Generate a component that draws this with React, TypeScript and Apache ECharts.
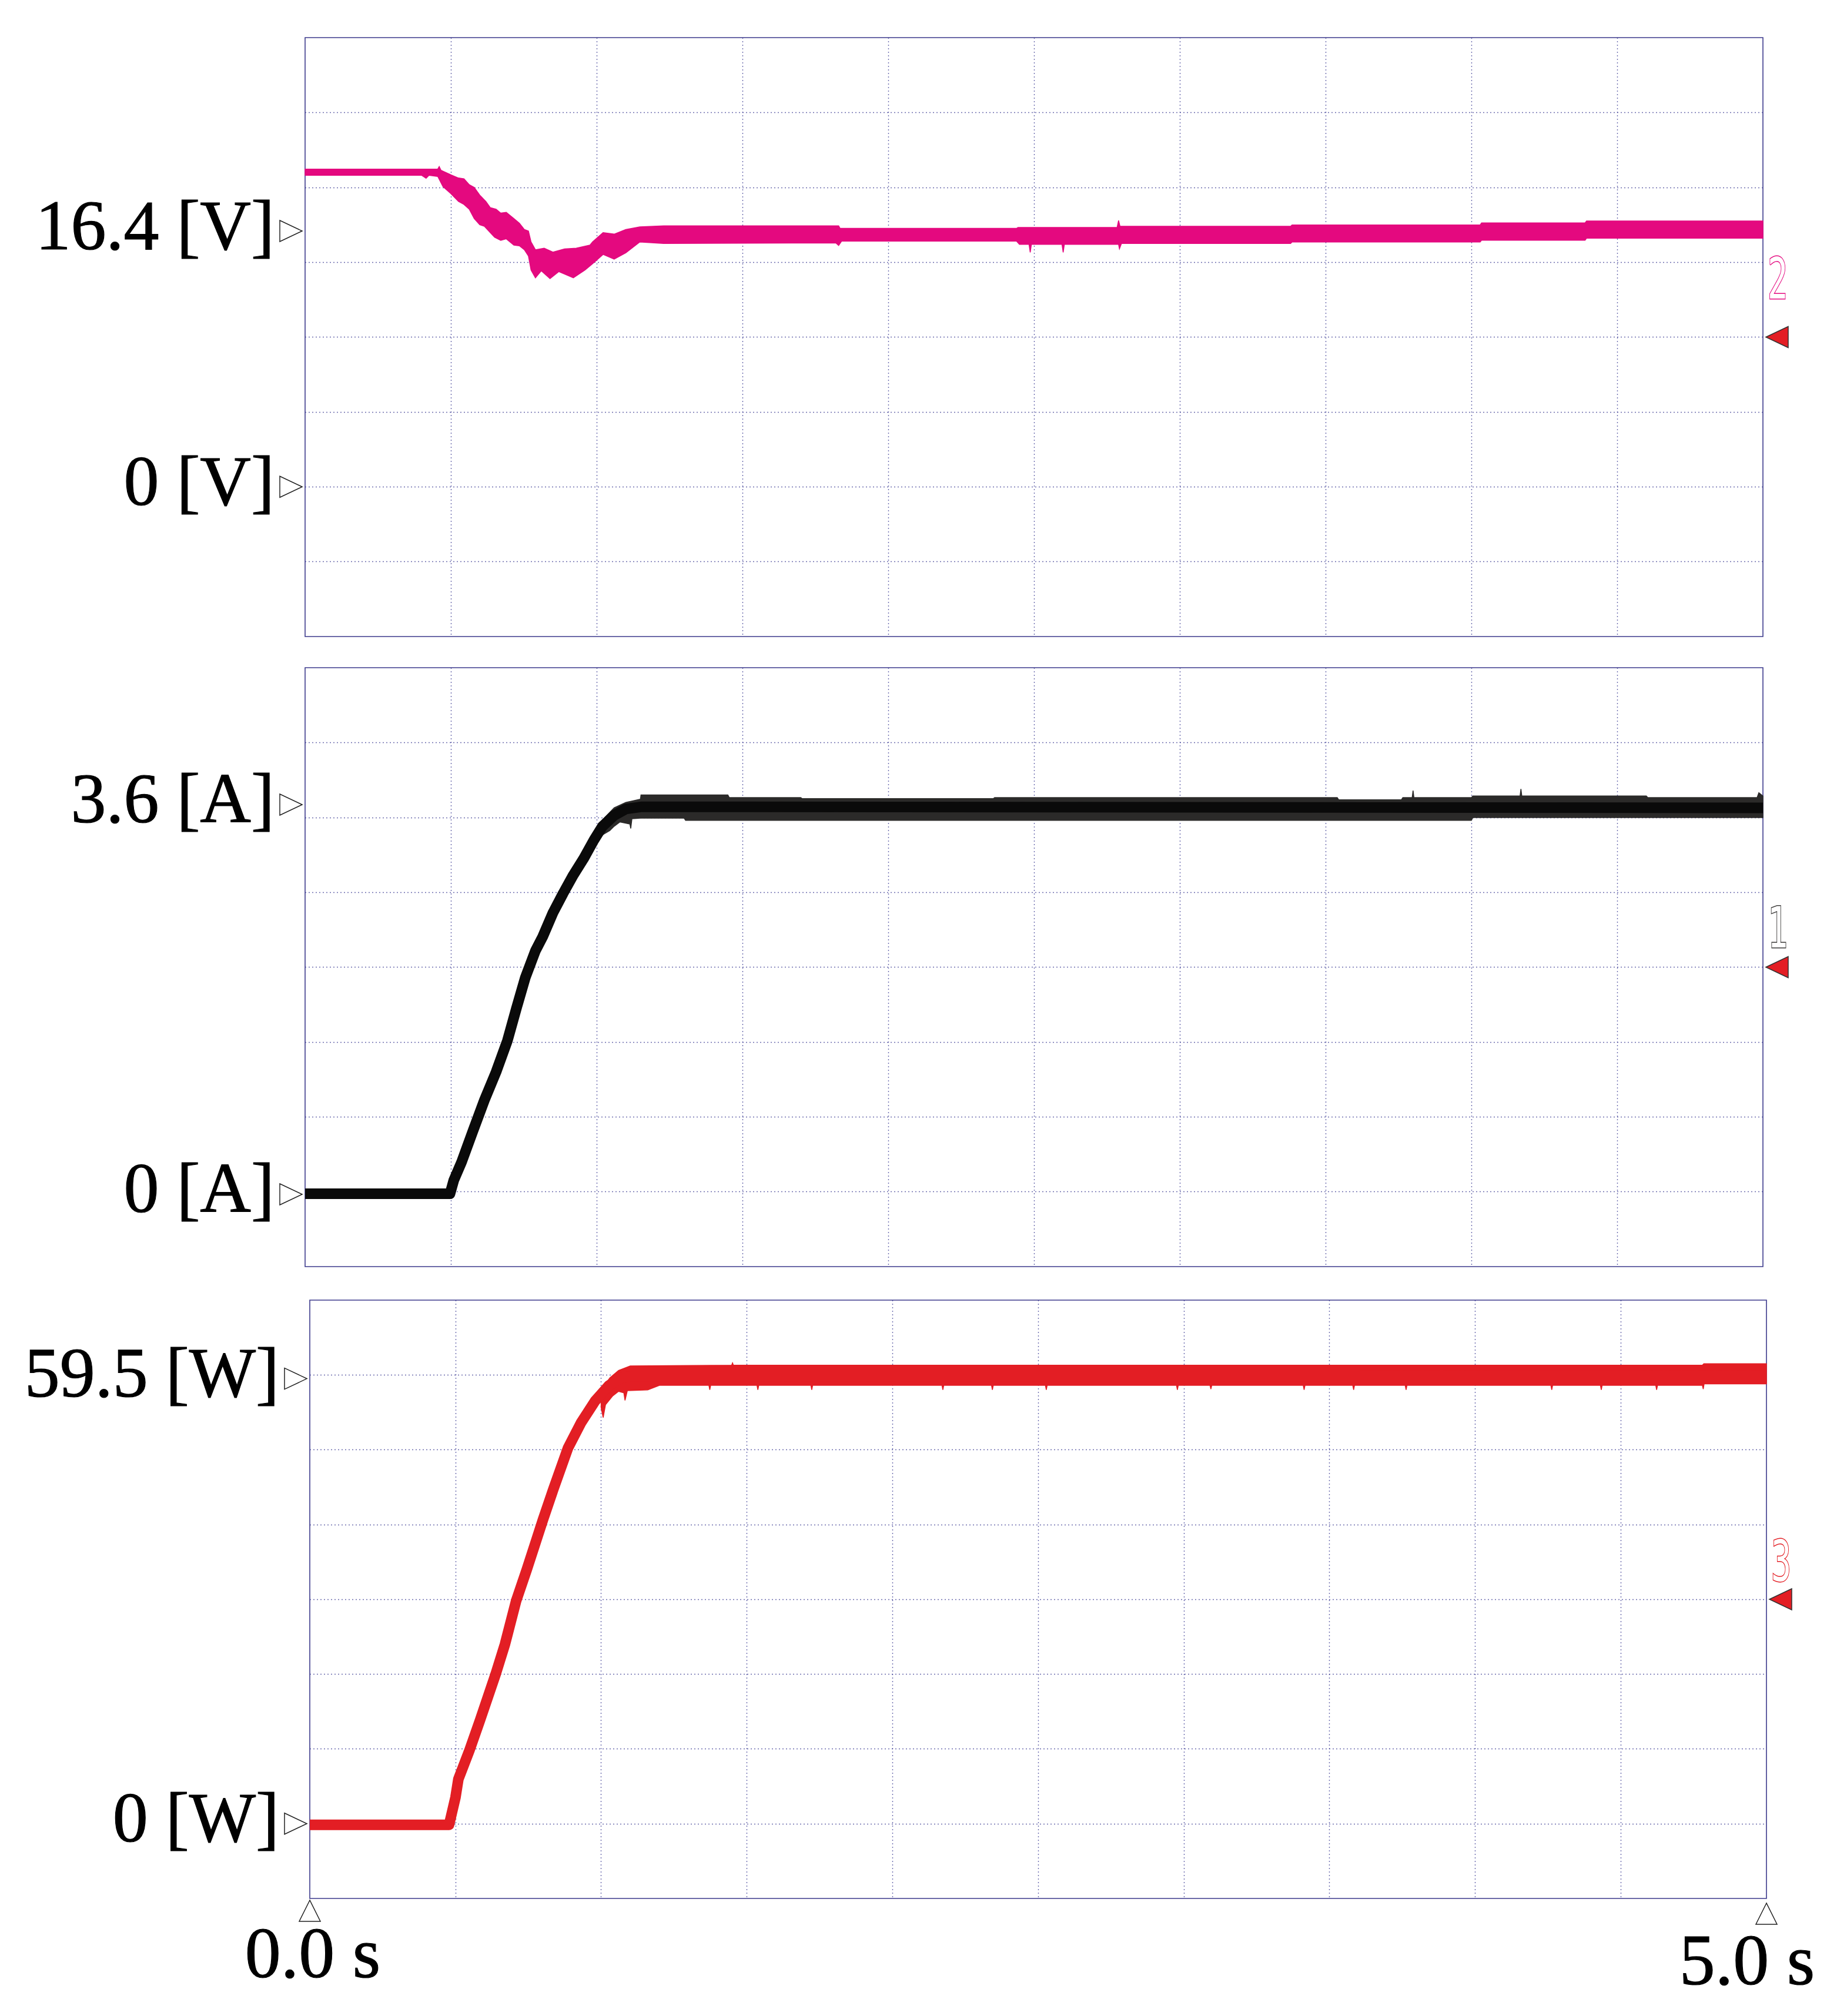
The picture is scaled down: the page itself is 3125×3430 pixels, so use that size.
import React, { useEffect, useRef } from 'react';
import * as echarts from 'echarts';

// ---------- data ----------
// time axis (s)
const timeRange = [0, 5];
const timeStep = 0.5;
const timeTickValues = [0, 5];
const timeTickLabels = ['0.0 s', '5.0 s'];
const divisions = 8;

// Channel 2 : voltage [V]
const voltageRange = [-9.6, 28.8];
const voltageLevels = [16.4, 0];
const voltageLevelLabels = ['16.4 [V]', '0 [V]'];
const voltageUpper: [number, number][] = [
  [0, 20.37], [0.455, 20.37], [0.46, 20.53], [0.466, 20.3], [0.5, 20.0], [0.526, 19.8], [0.545, 19.75],
  [0.563, 19.37], [0.58, 19.2], [0.599, 18.7], [0.62, 18.3], [0.635, 17.9], [0.655, 17.8], [0.671, 17.55],
  [0.69, 17.6], [0.716, 17.2], [0.735, 16.9], [0.752, 16.5], [0.766, 16.4], [0.775, 15.7], [0.79, 15.2],
  [0.82, 15.3], [0.85, 15.05], [0.89, 15.25], [0.93, 15.3], [0.977, 15.5], [0.986, 15.7], [1.022, 16.3],
  [1.06, 16.2], [1.1, 16.5], [1.148, 16.67], [1.23, 16.73], [1.83, 16.73], [1.835, 16.57], [2.44, 16.57],
  [2.445, 16.63], [2.785, 16.63], [2.79, 17.07], [2.795, 16.7], [3.38, 16.7], [3.385, 16.79], [4.03, 16.79],
  [4.035, 16.92], [4.39, 16.92], [4.395, 17.04], [5.0, 17.04],
];
const voltageLower: [number, number][] = [
  [0, 19.97], [0.4, 19.97], [0.415, 19.78], [0.425, 19.97], [0.455, 19.9], [0.473, 19.25], [0.5, 18.8],
  [0.526, 18.3], [0.545, 18.1], [0.563, 17.8], [0.58, 17.2], [0.599, 16.8], [0.615, 16.7], [0.635, 16.3],
  [0.65, 16.0], [0.671, 15.8], [0.69, 15.9], [0.716, 15.5], [0.735, 15.45], [0.752, 15.2], [0.766, 14.8],
  [0.775, 13.9], [0.79, 13.4], [0.81, 13.85], [0.84, 13.35], [0.87, 13.8], [0.92, 13.4], [0.96, 13.9],
  [0.986, 14.3], [1.022, 14.9], [1.06, 14.6], [1.1, 15.0], [1.148, 15.7], [1.23, 15.6], [1.82, 15.64],
  [1.83, 15.47], [1.84, 15.75], [2.44, 15.75], [2.45, 15.54], [2.483, 15.54], [2.487, 15.03], [2.491, 15.54],
  [2.596, 15.54], [2.6, 15.03], [2.604, 15.54], [2.79, 15.54], [2.793, 15.26], [2.8, 15.6], [3.38, 15.6],
  [3.385, 15.7], [4.03, 15.7], [4.035, 15.81], [4.39, 15.81], [4.395, 15.94], [5.0, 15.94],
];

// Channel 1 : current [A]
const currentRange = [-0.668, 4.865];
const currentLevels = [3.6, 0];
const currentLevelLabels = ['3.6 [A]', '0 [A]'];
const currentCenter: [number, number][] = [
  [0, 0.005], [0.497, 0.005], [0.51, 0.13], [0.537, 0.3], [0.575, 0.58], [0.615, 0.87], [0.655, 1.13],
  [0.694, 1.42], [0.725, 1.72], [0.755, 2.0], [0.79, 2.25], [0.815, 2.38], [0.85, 2.6], [0.885, 2.78],
  [0.92, 2.95], [0.955, 3.1], [0.99, 3.27], [1.02, 3.4], [1.06, 3.5], [1.1, 3.56], [1.155, 3.58], [5.0, 3.57],
];
const currentUpper: [number, number][] = [
  [1.02, 3.46], [1.06, 3.57], [1.1, 3.62], [1.15, 3.65], [1.152, 3.69], [1.45, 3.69], [1.455, 3.665],
  [1.7, 3.665], [1.705, 3.655], [2.36, 3.655], [2.365, 3.665], [3.54, 3.665], [3.545, 3.645], [3.76, 3.645],
  [3.765, 3.665], [3.797, 3.665], [3.8, 3.73], [3.803, 3.665], [4.0, 3.665], [4.005, 3.68], [4.167, 3.68],
  [4.17, 3.745], [4.173, 3.68], [4.6, 3.68], [4.605, 3.665], [4.98, 3.665], [4.986, 3.71], [5.0, 3.68],
];
const currentLower: [number, number][] = [
  [1.02, 3.32], [1.045, 3.36], [1.06, 3.4], [1.08, 3.44], [1.114, 3.42], [1.117, 3.38], [1.121, 3.47],
  [1.15, 3.475], [1.3, 3.475], [1.305, 3.455], [4.0, 3.455], [4.005, 3.48], [5.0, 3.48],
];

// Channel 3 : power [W]
const powerRange = [-10, 70];
const powerLevels = [59.5, 0];
const powerLevelLabels = ['59.5 [W]', '0 [W]'];
const powerCenter: [number, number][] = [
  [0, -0.15], [0.478, -0.15], [0.485, 1.0], [0.5, 3.5], [0.51, 5.95], [0.548, 9.8], [0.584, 13.8],
  [0.638, 20.0], [0.67, 24.0], [0.708, 29.75], [0.745, 34.0], [0.78, 38.2], [0.8, 40.6], [0.835, 44.6],
  [0.886, 50.2], [0.931, 53.6], [0.979, 56.5], [1.027, 58.6], [1.068, 59.6], [1.1, 59.8], [5.0, 59.9],
];
const powerUpper: [number, number][] = [
  [1.0, 58.0], [1.03, 59.6], [1.06, 60.6], [1.1, 61.2], [1.448, 61.3], [1.451, 61.6], [1.454, 61.3],
  [4.78, 61.3], [4.785, 61.5], [5.0, 61.5],
];
const powerLower: [number, number][] = [
  [1.0, 55.6], [1.007, 54.3], [1.015, 56.0], [1.04, 57.2], [1.06, 57.8], [1.078, 57.6], [1.082, 56.6],
  [1.09, 57.9], [1.16, 58.0], [1.2, 58.6], [1.37, 58.6], [1.373, 58.0], [1.376, 58.6], [1.535, 58.6],
  [1.538, 58.0], [1.541, 58.6], [1.72, 58.6], [1.723, 58.0], [1.726, 58.6], [2.17, 58.6], [2.173, 58.0],
  [2.176, 58.6], [2.34, 58.6], [2.343, 58.0], [2.346, 58.6], [2.525, 58.6], [2.528, 58.0], [2.531, 58.6],
  [2.975, 58.6], [2.978, 58.0], [2.981, 58.6], [3.09, 58.6], [3.093, 58.1], [3.096, 58.6], [3.41, 58.6],
  [3.413, 58.0], [3.416, 58.6], [3.58, 58.6], [3.583, 58.0], [3.586, 58.6], [3.76, 58.6], [3.763, 58.0],
  [3.766, 58.6], [4.26, 58.6], [4.263, 58.0], [4.266, 58.6], [4.43, 58.6], [4.433, 58.0], [4.436, 58.6],
  [4.62, 58.6], [4.623, 58.0], [4.626, 58.6], [4.78, 58.6], [4.783, 58.1], [4.786, 58.8], [5.0, 58.8],
];

const channelNames = ['2', '1', '3'];

// ---------- layout & style ----------
const PAGE_W = 3125;
const PAGE_H = 3430;
const GRIDS = [
  { left: 519, top: 64, width: 2480, height: 1019 },
  { left: 519, top: 1136, width: 2480, height: 1019 },
  { left: 527, top: 2212, width: 2478, height: 1018 },
];
const GRID_LINE = '#3a3a92';
const BORDER = '#3c3a8c';
const C_V = '#e4097f';
const C_A_LINE = '#0a0a0a';
const C_A_BAND = '#2b2a29';
const C_W = '#e31e24';
const SERIF = '"Liberation Serif", "Times New Roman", serif';

const panels = [
  { range: voltageRange, levels: voltageLevels, labels: voltageLevelLabels, center: null as any, centerColor: C_V, upper: voltageUpper, lower: voltageLower, bandColor: C_V, numColor: C_V, numDy: -98 },
  { range: currentRange, levels: currentLevels, labels: currentLevelLabels, center: currentCenter, centerColor: C_A_LINE, upper: currentUpper, lower: currentLower, bandColor: C_A_BAND, numColor: '#3a3938', numDy: -66 },
  { range: powerRange, levels: powerLevels, labels: powerLevelLabels, center: powerCenter, centerColor: C_W, upper: powerUpper, lower: powerLower, bandColor: C_W, numColor: C_W, numDy: -64 },
];

function bandSeries(k: number, upper: [number, number][], lower: [number, number][], color: string) {
  return {
    type: 'custom',
    coordinateSystem: 'cartesian2d',
    xAxisIndex: k,
    yAxisIndex: 2 * k + 1,
    data: [[upper[0][0], upper[0][1]]],
    encode: { x: 0, y: 1 },
    silent: true,
    z: 2,
    renderItem: (_params: any, api: any) => {
      const pts = upper.map((p) => api.coord(p)).concat(lower.slice().reverse().map((p) => api.coord(p)));
      return {
        type: 'polygon',
        shape: { points: pts },
        style: { fill: color, stroke: color, lineWidth: 1.5 },
      };
    },
  };
}

export default function App() {
  const ref = useRef<HTMLDivElement>(null);

  useEffect(() => {
    if (!ref.current) return;
    const chart = echarts.init(ref.current, null, { renderer: 'svg', width: PAGE_W, height: PAGE_H });

    const splitStyle = { color: GRID_LINE, width: 1.4, type: [2, 4] as any, opacity: 0.75 };

    const grid = GRIDS.map((g) => ({
      left: g.left, top: g.top, width: g.width, height: g.height,
      show: true, borderColor: BORDER, borderWidth: 1.6, backgroundColor: '#ffffff', containLabel: false,
    }));

    const xAxis = GRIDS.map((_g, k) => ({
      type: 'value', gridIndex: k, min: timeRange[0], max: timeRange[1], interval: timeStep,
      axisLine: { show: false }, axisTick: { show: false }, axisLabel: { show: false },
      splitLine: { show: true, showMinLine: false, showMaxLine: false, lineStyle: splitStyle },
    }));

    const yAxis: any[] = [];
    panels.forEach((p, k) => {
      yAxis.push({
        type: 'value', gridIndex: k, min: 0, max: divisions, interval: 1,
        axisLine: { show: false }, axisTick: { show: false }, axisLabel: { show: false },
        splitLine: { show: true, showMinLine: false, showMaxLine: false, lineStyle: splitStyle },
      });
      yAxis.push({
        type: 'value', gridIndex: k, min: p.range[0], max: p.range[1], show: false,
        splitLine: { show: false },
      });
    });

    const series: any[] = [];
    panels.forEach((p, k) => {
      series.push(bandSeries(k, p.upper, p.lower, p.bandColor));
      if (p.center) {
        series.push({
          type: 'line', xAxisIndex: k, yAxisIndex: 2 * k + 1, data: p.center,
          showSymbol: false, symbol: 'none', silent: true, z: 3, clip: true,
          lineStyle: { color: p.centerColor, width: 18, cap: 'butt', join: 'round' },
        });
      }
    });

    chart.setOption({
      animation: false,
      backgroundColor: '#ffffff',
      grid, xAxis, yAxis, series,
    });

    // overlay markers and labels positioned through the axes
    const graphic: any[] = [];
    panels.forEach((p, k) => {
      const g = GRIDS[k];
      p.levels.forEach((v, i) => {
        const [, py] = chart.convertToPixel({ xAxisIndex: k, yAxisIndex: 2 * k + 1 }, [0, v]) as number[];
        const tipX = g.left - 5;
        graphic.push({
          type: 'polygon', x: tipX, y: py, z: 10,
          shape: { points: [[-38, -18], [-38, 18], [0, 0]] },
          style: { fill: '#ffffff', stroke: '#222222', lineWidth: 1.5 },
        });
        graphic.push({
          type: 'text', x: g.left - 52, y: py - 10, z: 10,
          style: {
            text: p.labels[i], font: `120px ${SERIF}`, fill: '#000000', align: 'right', verticalAlign: 'middle',
            stroke: '#000000', lineWidth: 1.2,
          },
        });
      });
      const midY = chart.convertToPixel({ yAxisIndex: 2 * k }, divisions / 2) as unknown as number;
      const rightX = g.left + g.width;
      graphic.push({
        type: 'polygon', x: rightX + 5, y: midY, z: 10,
        shape: { points: [[0, 0], [38, -18], [38, 18]] },
        style: { fill: '#e31e24', stroke: '#333333', lineWidth: 1.5 },
      });
      graphic.push({
        type: 'text', x: rightX + 25, y: midY + p.numDy, z: 10, scaleX: 0.6,
        style: {
          text: channelNames[k], font: `96px "DejaVu Sans Mono", monospace`,
          fill: '#ffffff', stroke: p.numColor, lineWidth: 3, align: 'center', verticalAlign: 'middle',
        },
      });
    });

    const last = GRIDS.length - 1;
    const bottom = GRIDS[last].top + GRIDS[last].height;
    const labelDx = [5, -33];
    const labelDy = [92, 104];
    timeTickValues.forEach((t, i) => {
      const px = chart.convertToPixel({ xAxisIndex: last }, t) as unknown as number;
      graphic.push({
        type: 'polygon', x: px, y: bottom + 3 + i * 5, z: 10,
        shape: { points: [[0, 0], [-18, 36], [18, 36]] },
        style: { fill: '#ffffff', stroke: '#222222', lineWidth: 1.5 },
      });
      graphic.push({
        type: 'text', x: px + labelDx[i], y: bottom + labelDy[i], z: 10,
        style: {
          text: timeTickLabels[i], font: `122px ${SERIF}`, fill: '#000000', align: 'center', verticalAlign: 'middle',
          stroke: '#000000', lineWidth: 1.2,
        },
      });
    });

    chart.setOption({ graphic });

    return () => {
      chart.dispose();
    };
  }, []);

  return (
    <div
      ref={ref}
      style={{ position: 'absolute', left: 0, top: 0, width: PAGE_W, height: PAGE_H, background: '#ffffff' }}
    />
  );
}
